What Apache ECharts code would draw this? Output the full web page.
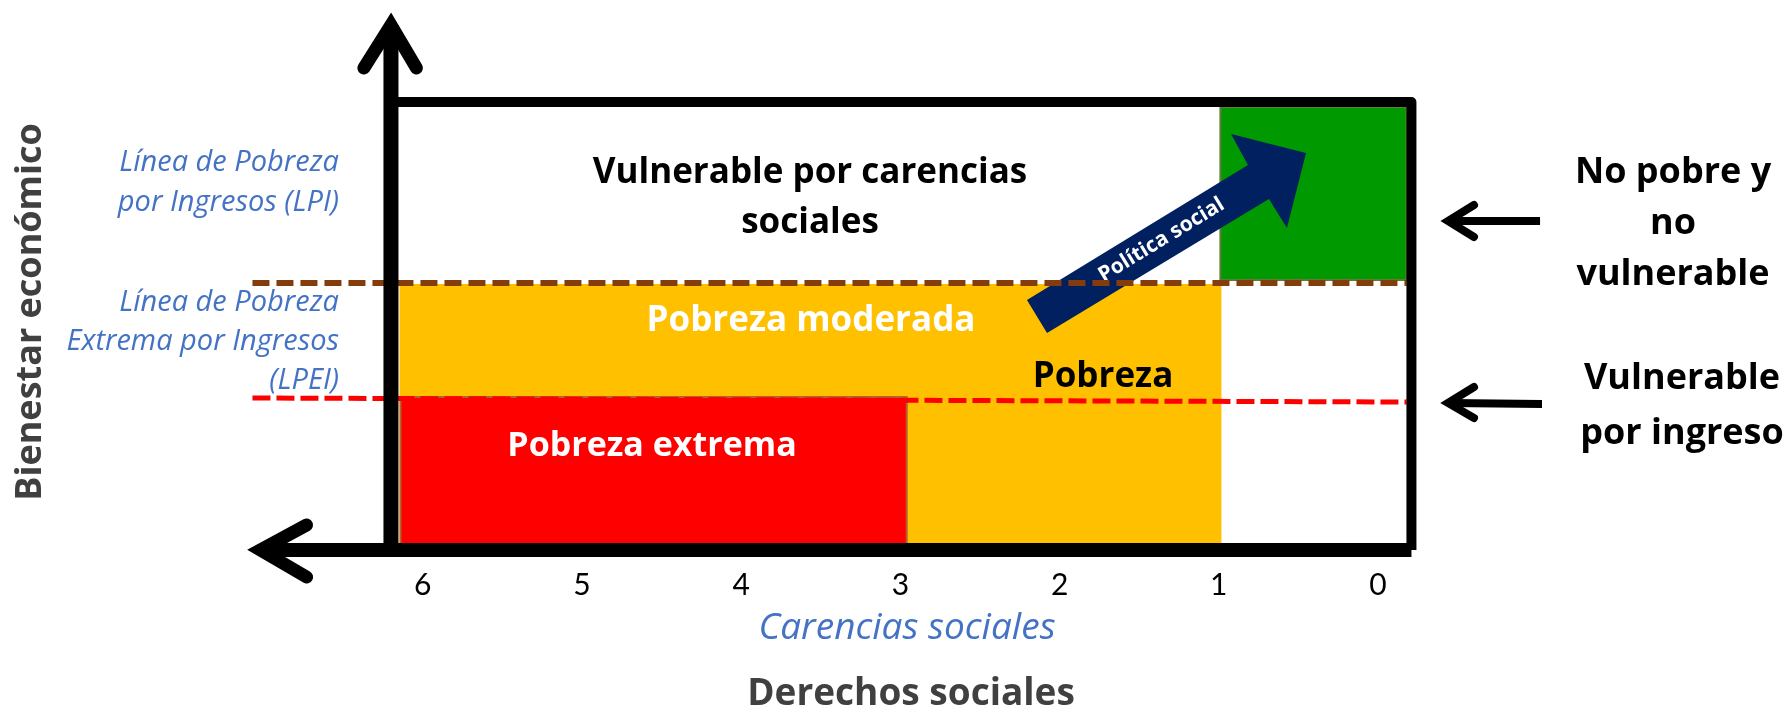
<!DOCTYPE html>
<html><head><meta charset="utf-8">
<script src="https://cdn.jsdelivr.net/npm/echarts@6/dist/echarts.min.js"></script>
<style>html,body{margin:0;padding:0;background:#fff}#c{width:1785px;height:712px}</style>
</head><body><div id="c"></div>
<script>
// ---- data (x = carencias sociales, y = bienestar económico, arbitrary units) ----
const xTicks = [6, 5, 4, 3, 2, 1, 0];
const regionNames = ['Pobreza moderada', 'Pobreza extrema', 'No pobre y no vulnerable'];
const regionX0 = [6.14, 6.14, 0.99];
const regionX1 = [0.99, 2.96, -0.18];
const regionY0 = [0, 0, 2.70];
const regionY1 = [2.65, 1.53, 4.43];
const lpiX = [7.07, -0.18];
const lpiY = [2.67, 2.67];
const lpeiX = [7.07, -0.18];
const lpeiY = [1.52, 1.48];
const policyX = [2.205, 0.817, 0.923, 0.452, 0.572, 0.685, 2.079];
const policyY = [2.50, 3.85, 4.16, 3.97, 3.22, 3.51, 2.17];
const policyLabelAt = [1.36, 3.10];
const frameTopX = [6.20, -0.21, -0.21];
const frameTopY = [4.48, 4.48, 0];
const yAxisLineX = [6.20, 6.20];
const yAxisLineY = [0, 5.25];
const yArrowX = [6.37, 6.20, 6.04];
const yArrowY = [4.82, 5.25, 4.82];
const xAxisLineX = [7.02, -0.21];
const xAxisLineY = [0, 0];
const xArrowX = [6.73, 7.02, 6.73];
const xArrowY = [0.25, 0, -0.27];
const noteArrowUpX = [-1.018, -0.452];
const noteArrowUpY = [3.29, 3.29];
const noteHeadUpX = [-0.603, -0.44, -0.603];
const noteHeadUpY = [3.45, 3.29, 3.13];
const noteArrowLowX = [-1.068, -0.452];
const noteArrowLowY = [1.46, 1.47];
const noteHeadLowX = [-0.603, -0.44, -0.603];
const noteHeadLowY = [1.63, 1.47, 1.32];

const pts = (xs, ys) => xs.map((x, i) => [x, ys[i]]);
const FONT = '"Open Sans"';
const chart = echarts.init(document.getElementById('c'));

function solid(xs, ys, width, z, cap, join) {
  return { type: 'line', data: pts(xs, ys), symbol: 'none', clip: false, z: z, silent: true,
    lineStyle: { color: '#000', width: width, cap: cap || 'butt', join: join || 'miter', miterLimit: 10 } };
}
function dashed(xs, ys, color, width, dash, z) {
  return { type: 'line', data: pts(xs, ys), symbol: 'none', clip: false, z: z, silent: true,
    lineStyle: { color: color, width: width, type: dash } };
}

const regionFill = ['#FFC000', '#FF0000', '#009900'];
const regionStroke = ['#FFC000', '#B4632A', '#5E7E35'];

const option = {
  animation: false,
  backgroundColor: '#ffffff',
  grid: { left: 104.4, right: 247.8, top: 0, bottom: 162 },
  xAxis: {
    type: 'value', inverse: true, min: -1, max: 8, interval: 1,
    axisLine: { show: false }, axisTick: { show: false }, splitLine: { show: false },
    axisLabel: { margin: 20, fontFamily: 'Lato', fontSize: 30, color: '#000',
      formatter: v => xTicks.includes(v) ? String(v) : '' }
  },
  yAxis: { type: 'value', min: 0, max: 5.5, show: false },
  series: [
    {
      type: 'custom', z: 1, clip: false, silent: true,
      data: regionNames.map((n, i) => ({ name: n, value: [regionX0[i], regionX1[i], regionY0[i], regionY1[i]] })),
      encode: { x: [0, 1], y: [2, 3] },
      renderItem: (p, api) => {
        const a = api.coord([api.value(0), api.value(3)]);
        const b = api.coord([api.value(1), api.value(2)]);
        return { type: 'rect',
          shape: { x: Math.min(a[0], b[0]), y: Math.min(a[1], b[1]), width: Math.abs(b[0] - a[0]), height: Math.abs(b[1] - a[1]) },
          style: { fill: regionFill[p.dataIndex], stroke: regionStroke[p.dataIndex], lineWidth: 2 } };
      }
    },
    {
      type: 'custom', z: 2, clip: false, silent: true, data: [[0]],
      renderItem: (p, api) => {
        const poly = policyX.map((x, i) => api.coord([x, policyY[i]]));
        const c = api.coord(policyLabelAt);
        return { type: 'group', children: [
          { type: 'polygon', shape: { points: poly }, style: { fill: '#002060' } },
          { type: 'text', x: c[0], y: c[1], rotation: 0.546,
            style: { text: 'Política social', fill: '#fff', font: 'bold 21px ' + FONT, align: 'center', verticalAlign: 'middle' } }
        ] };
      }
    },
    dashed(lpiX, lpiY, '#843C0C', 6, [17, 7], 3),
    dashed(lpeiX, lpeiY, '#FF0000', 5, [18, 6], 3),
    solid(frameTopX, frameTopY, 10, 4, 'butt', 'round'),
    solid(yAxisLineX, yAxisLineY, 15, 4),
    solid(xAxisLineX, xAxisLineY, 14, 4),
    solid(yArrowX, yArrowY, 13, 5, 'round', 'miter'),
    solid(xArrowX, xArrowY, 13, 5, 'round', 'miter'),
    solid(noteArrowUpX, noteArrowUpY, 8, 5),
    solid(noteHeadUpX, noteHeadUpY, 8, 5, 'round', 'miter'),
    solid(noteArrowLowX, noteArrowLowY, 8, 5),
    solid(noteHeadLowX, noteHeadLowY, 8, 5, 'round', 'miter')
  ],
  graphic: [
    { type: 'text', x: 31, y: 312, rotation: Math.PI / 2, z: 10,
      style: { text: 'Bienestar económico', font: 'bold 36px ' + FONT, fill: '#404040', align: 'center', verticalAlign: 'middle' } },
    { type: 'text', x: 339, y: 183, z: 10,
      style: { text: 'Línea de Pobreza\npor Ingresos (LPI)', font: 'italic 29px ' + FONT, fill: '#4472C4', align: 'right', verticalAlign: 'middle', lineHeight: 40 } },
    { type: 'text', x: 339, y: 342, z: 10,
      style: { text: 'Línea de Pobreza\nExtrema por Ingresos\n(LPEI)', font: 'italic 29px ' + FONT, fill: '#4472C4', align: 'right', verticalAlign: 'middle', lineHeight: 39 } },
    { type: 'text', x: 810, y: 198, z: 10,
      style: { text: 'Vulnerable por carencias\nsociales', font: 'bold 35px ' + FONT, fill: '#000', align: 'center', verticalAlign: 'middle', lineHeight: 50 } },
    { type: 'text', x: 811, y: 321, z: 10,
      style: { text: 'Pobreza moderada', font: 'bold 35px ' + FONT, fill: '#fff', align: 'center', verticalAlign: 'middle' } },
    { type: 'text', x: 652, y: 446, z: 10,
      style: { text: 'Pobreza extrema', font: 'bold 34px ' + FONT, fill: '#fff', align: 'center', verticalAlign: 'middle' } },
    { type: 'text', x: 1103, y: 377, z: 10,
      style: { text: 'Pobreza', font: 'bold 35px ' + FONT, fill: '#000', align: 'center', verticalAlign: 'middle' } },
    { type: 'text', x: 1673, y: 224, z: 10,
      style: { text: 'No pobre y\nno\nvulnerable', font: 'bold 36px ' + FONT, fill: '#000', align: 'center', verticalAlign: 'middle', lineHeight: 51 } },
    { type: 'text', x: 1682, y: 406, z: 10,
      style: { text: 'Vulnerable\npor ingreso', font: 'bold 36px ' + FONT, fill: '#000', align: 'center', verticalAlign: 'middle', lineHeight: 55 } },
    { type: 'text', x: 907, y: 628, z: 10,
      style: { text: 'Carencias sociales', font: 'italic 37px ' + FONT, fill: '#4472C4', align: 'center', verticalAlign: 'middle' } },
    { type: 'text', x: 911, y: 694, z: 10,
      style: { text: 'Derechos sociales', font: 'bold 37px ' + FONT, fill: '#404040', align: 'center', verticalAlign: 'middle' } }
  ]
};
chart.setOption(option);
</script>
</body></html>
